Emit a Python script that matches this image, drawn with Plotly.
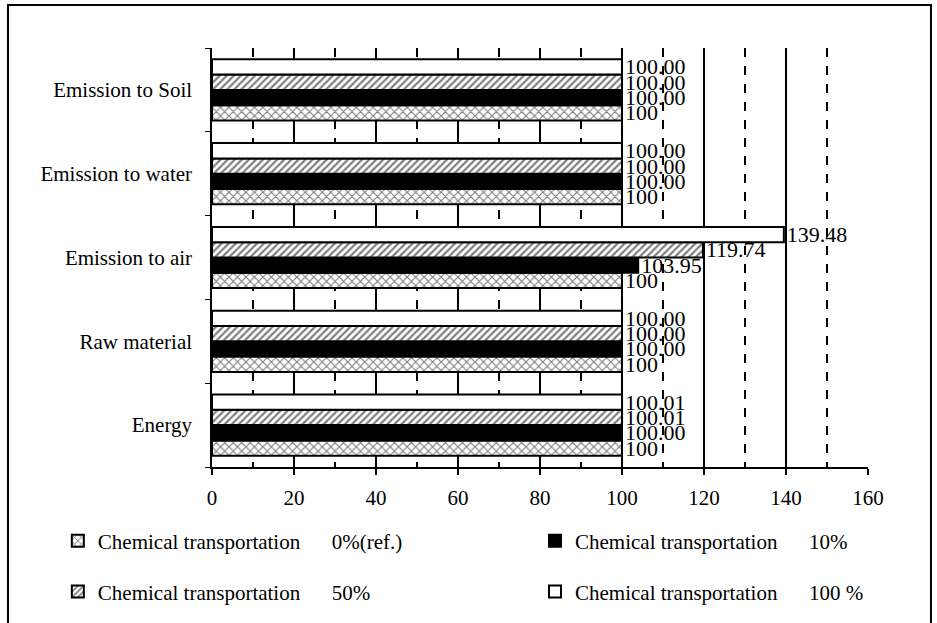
import plotly.graph_objects as go

categories = ["Energy", "Raw material", "Emission to air", "Emission to water", "Emission to Soil"]
series_names = ["0%(ref.)", "10%", "50%", "100 %"]
v_0 = [100, 100, 100, 100, 100]
v_10 = [100.00, 100.00, 103.95, 100.00, 100.00]
v_50 = [100.01, 100.00, 119.74, 100.00, 100.00]
v_100 = [100.01, 100.00, 139.48, 100.00, 100.00]
x_ticks = [0, 20, 40, 60, 80, 100, 120, 140, 160]

FONT = "Liberation Serif"
NB = "\u00a0"
prefix = "Chemical transportation"

def leg_name(suffix, gap):
    return prefix + NB * gap + suffix

styles = [
    dict(color="white", pattern=dict(shape="x", fgcolor="black", bgcolor="white", size=6, solidity=0.35), fmt="%{x:.0f}", legend="legend", gap=6),
    dict(color="black", pattern=None, fmt="%{x:.2f}", legend="legend2", gap=6),
    dict(color="white", pattern=dict(shape="/", fgcolor="black", bgcolor="white", size=5, solidity=0.45), fmt="%{x:.2f}", legend="legend3", gap=6),
    dict(color="white", pattern=None, fmt="%{x:.2f}", legend="legend4", gap=6),
]
values = [v_0, v_10, v_50, v_100]

fig = go.Figure()
for name, vals, st in zip(series_names, values, styles):
    marker = dict(color=st["color"], line=dict(color="black", width=2))
    if st["pattern"]:
        marker["pattern"] = st["pattern"]
    fig.add_trace(go.Bar(
        y=categories, x=vals, orientation="h", name=leg_name(name, st["gap"]),
        marker=marker, texttemplate=st["fmt"], textposition="outside",
        constraintext="none", cliponaxis=False,
        textfont=dict(family=FONT, size=22, color="black"),
        legend=st["legend"],
    ))

def leg(x, y):
    return dict(orientation="h", x=x, xanchor="left", y=y, yanchor="middle",
                font=dict(family=FONT, size=21, color="black"), bgcolor="rgba(0,0,0,0)")

fig.update_layout(
    width=937, height=623,
    margin=dict(l=212, r=69, t=48, b=155),
    paper_bgcolor="white", plot_bgcolor="white",
    barmode="group", bargap=0.27, bargroupgap=0,
    font=dict(family=FONT, size=21, color="black"),
    showlegend=True,
    legend=leg(-0.235, -0.174),
    legend2=leg(0.4924, -0.174),
    legend3=leg(-0.235, -0.295),
    legend4=leg(0.4924, -0.295),
    xaxis=dict(range=[0, 160], tickvals=x_ticks, showline=True, linecolor="black", linewidth=1.5,
               ticks="outside", ticklen=6, tickcolor="black", tickwidth=1.5,
               showgrid=True, gridcolor="black", gridwidth=1.5, zeroline=False,
               minor=dict(dtick=10, showgrid=True, gridcolor="black", gridwidth=1.5, griddash="dash"),
               tickfont=dict(family=FONT, size=21), ticklabelstandoff=5),
    yaxis=dict(showline=True, linecolor="black", linewidth=1.5, ticks="outside", ticklen=5,
               tickcolor="black", tickson="boundaries", showgrid=False,
               tickfont=dict(family=FONT, size=21), ticklabelstandoff=14,
               categoryorder="array", categoryarray=categories),
    shapes=[dict(type="rect", xref="paper", yref="paper", x0=-0.311, x1=1.096, y0=-0.55, y1=1.1024,
                 line=dict(color="black", width=2), fillcolor="rgba(0,0,0,0)", layer="below")],
)

fig.write_html("out.html")
